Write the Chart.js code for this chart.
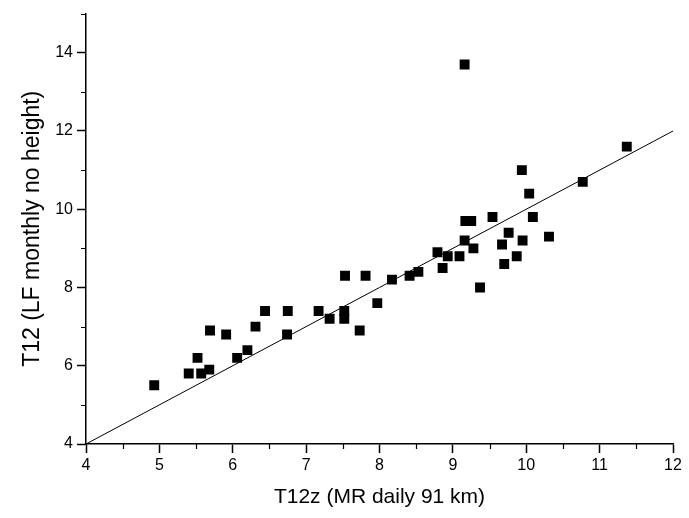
<!DOCTYPE html>
<html>
<head>
<meta charset="utf-8">
<script src="https://cdn.jsdelivr.net/npm/chart.js@4"></script>
<style>
  html, body { margin: 0; padding: 0; background: #fff; }
  #wrap { width: 689px; height: 518px; }
</style>
</head>
<body>
<div id="wrap"><canvas id="c" width="689" height="518"></canvas></div>
<script>
/* T12 LF monthly vs T12z MR daily scatter */

const xVals = [4.93, 5.40, 5.52, 5.57, 5.68, 5.69, 5.91, 6.06, 6.20, 6.31, 6.44, 6.75,
  6.74, 7.17, 7.32, 7.52, 7.52, 7.53, 7.81, 7.73, 7.97, 8.17, 8.41, 8.53,
  8.79, 8.86, 8.93, 9.09, 9.16, 9.17, 9.25, 9.28, 9.37, 9.16, 9.54, 9.67,
  9.76, 9.70, 9.87, 9.95, 9.94, 10.04, 10.09, 10.31, 10.77, 11.37];
const yVals = [5.5, 5.8, 6.2, 5.8, 5.9, 6.9, 6.8, 6.2, 6.4, 7.0, 7.4, 7.4,
  6.8, 7.4, 7.2, 7.4, 7.2, 8.3, 8.3, 6.9, 7.6, 8.2, 8.3, 8.4,
  8.9, 8.5, 8.8, 8.8, 9.2, 9.7, 9.7, 9.0, 8.0, 13.7, 9.8, 9.1,
  9.4, 8.6, 8.8, 9.2, 11.0, 10.4, 9.8, 9.3, 10.7, 11.6];
const refLine = [4, 12];          // y = x reference
const xTicks = [4, 5, 6, 7, 8, 9, 10, 11, 12];
const yTicks = [4, 6, 8, 10, 12, 14];
const xMinor = [4.5, 5.5, 6.5, 7.5, 8.5, 9.5, 10.5, 11.5];
const yMinor = [5, 7, 9, 11, 13, 15];

const FONT = "'Liberation Sans', Arial, sans-serif";

const minorTicks = {
  id: "minorTicks",
  afterDraw(chart) {
    const { ctx, scales: { x, y } } = chart;
    ctx.save();
    ctx.strokeStyle = "#000";
    ctx.lineWidth = 1.2;
    ctx.beginPath();
    for (const v of xMinor) {
      const px = Math.round(x.getPixelForValue(v)) + 0.5;
      ctx.moveTo(px, x.top);
      ctx.lineTo(px, x.top + 5);
    }
    for (const v of yMinor) {
      const py = Math.round(y.getPixelForValue(v)) + 0.5;
      ctx.moveTo(y.right, py);
      ctx.lineTo(y.right - 5, py);
    }
    ctx.stroke();
    ctx.restore();
  },
};

new Chart(document.getElementById("c"), {
  type: "scatter",
  data: {
    datasets: [
      {
        label: "T12",
        data: xVals.map((v, i) => ({ x: v, y: yVals[i] })),
        pointStyle: "rect",
        pointRadius: 7,
        pointHoverRadius: 7,
        backgroundColor: "#000",
        borderColor: "#000",
        borderWidth: 0,
      },
      {
        label: "1:1",
        data: refLine.map((v) => ({ x: v, y: v })),
        showLine: true,
        borderColor: "#000",
        borderWidth: 1,
        pointRadius: 0,
        fill: false,
      },
    ],
  },
  options: {
    responsive: false,
    animation: false,
    layout: { padding: { top: 11, right: 16, left: 0, bottom: 0 } },
    plugins: { legend: { display: false }, tooltip: { enabled: false } },
    scales: {
      x: {
        type: "linear", min: 4, max: 12,
        afterBuildTicks: (s) => { s.ticks = xTicks.map((v) => ({ value: v })); },
        afterFit: (s) => { s.height = 74; },
        grid: { drawOnChartArea: false, drawTicks: true, tickLength: 9, tickWidth: 1.5, tickColor: "#000" },
        border: { display: true, color: "#000", width: 1.5 },
        ticks: { color: "#000", padding: 3, font: { family: FONT, size: 16 }, maxRotation: 0 },
        title: { display: true, text: "T12z (MR daily 91 km)", color: "#000",
          font: { family: FONT, size: 21 }, padding: { top: 4, bottom: 8 } },
      },
      y: {
        type: "linear", min: 4, max: 15,
        afterBuildTicks: (s) => { s.ticks = yTicks.map((v) => ({ value: v })); },
        afterFit: (s) => { s.width = 86; },
        grid: { drawOnChartArea: false, drawTicks: true, tickLength: 9, tickWidth: 1.5, tickColor: "#000" },
        border: { display: true, color: "#000", width: 1.5 },
        ticks: { color: "#000", padding: 4, font: { family: FONT, size: 16 } },
        title: { display: true, text: "T12 (LF monthly no height)", color: "#000",
          font: { family: FONT, size: 23 }, padding: { top: 19, bottom: 0 } },
      },
    },
  },
  plugins: [minorTicks],
});
</script>
</body>
</html>
